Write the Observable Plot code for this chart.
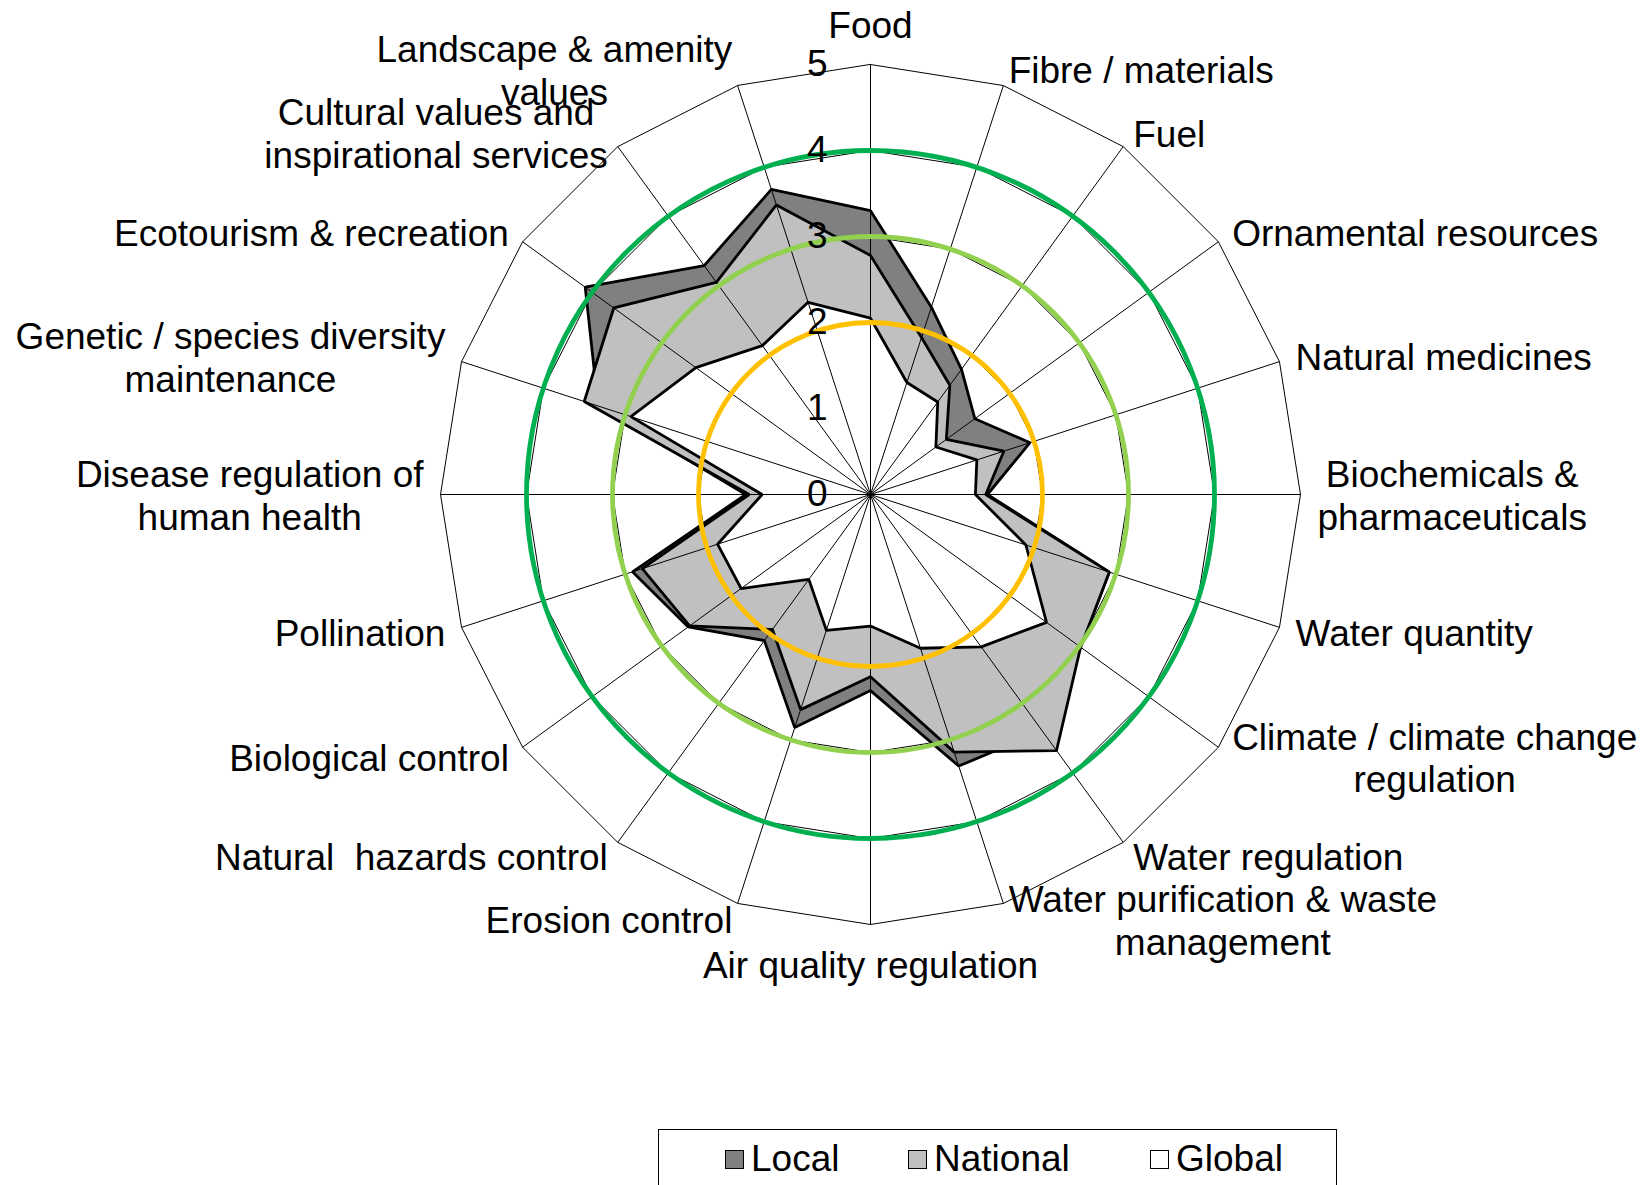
<!DOCTYPE html>
<html><head><meta charset="utf-8">
<script src="https://cdn.jsdelivr.net/npm/d3@7"></script>
<script src="https://cdn.jsdelivr.net/npm/@observablehq/plot@0.6"></script>
<style>
html,body{margin:0;padding:0;background:#fff;overflow:hidden;width:1651px;height:1185px;}
#chart{position:absolute;left:0;top:0;}
svg text{white-space:pre;}
#legend{position:absolute;left:658px;top:1129px;width:679px;height:90px;border:1px solid #000;box-sizing:border-box;font-family:"Liberation Sans",Arial,sans-serif;font-size:37px;color:#000;}
.item{position:absolute;top:0;height:58px;display:flex;align-items:center;}
.sw{width:17px;height:17px;border:1.6px solid #000;margin-right:7px;}
</style></head><body>
<div id="chart"></div>
<div id="legend"></div>
<script>
const categories = [
  "Food", "Fibre / materials", "Fuel", "Ornamental resources", "Natural medicines",
  "Biochemicals &\npharmaceuticals", "Water quantity", "Climate / climate change\nregulation",
  "Water regulation", "Water purification & waste\nmanagement", "Air quality regulation",
  "Erosion control", "Natural  hazards control", "Biological control", "Pollination",
  "Disease regulation of\nhuman health", "Genetic / species diversity\nmaintenance",
  "Ecotourism & recreation", "Cultural values and\ninspirational services",
  "Landscape & amenity\nvalues"
];
const local    = [3.30, 2.29, 1.80, 1.50, 1.95, 1.36, 2.92, 3.02, 3.40, 3.32, 2.28, 2.85, 2.10, 2.62, 2.91, 1.45, 3.33, 4.10, 3.29, 3.73];
const national = [2.78, 1.92, 1.57, 1.09, 1.63, 1.34, 2.92, 3.02, 3.68, 3.15, 2.12, 2.63, 1.94, 2.60, 2.79, 1.41, 3.50, 3.69, 3.05, 3.54];
const global   = [2.05, 1.37, 1.33, 0.94, 1.30, 1.22, 1.90, 2.53, 2.19, 1.88, 1.53, 1.66, 1.22, 1.86, 1.87, 1.26, 2.93, 2.51, 2.14, 2.35];
const seriesNames = ["Local", "National", "Global"];
const seriesFills = ["#808080", "#C0C0C0", "#FFFFFF"];
const ticks = [0, 1, 2, 3, 4, 5];
const thresholds = [2, 3, 4];
const thresholdColors = ["#FFC000", "#92D050", "#00B050"];

const seriesValues = [local, national, global];
const N = categories.length;
const MAX = 5;
const CX = 870, CY = 494, R = 430;
const PXU = R / MAX;
const FONT = '"Liberation Sans", Arial, sans-serif';
const FS = 37;
const ang = i => i * 2 * Math.PI / N;
const px = (v, i) => v * Math.sin(ang(i));
const py = (v, i) => v * Math.cos(ang(i));

const ringRows = ticks.filter(t => t > 0).flatMap(t => categories.map((c, i) => ({t, i})));
const idx = categories.map((c, i) => i);

// measure label widths for block placement
const ctx = document.createElement("canvas").getContext("2d");
ctx.font = `${FS}px "Liberation Sans"`;
const labelRows = categories.map((c, i) => {
  const w = d3.max(c.split("\n"), s => ctx.measureText(s).width);
  const s = Math.sin(ang(i)), co = Math.cos(ang(i));
  const side = Math.abs(s) < 0.01 ? 0 : Math.sign(s);
  const pad = side === 0 ? 40 : 17;
  const rr = MAX + pad / PXU;
  return {text: c, x: rr * s + side * (w / 2) / PXU, y: rr * co};
});

const marks = [
  Plot.line(ringRows, {x: d => px(d.t, d.i), y: d => py(d.t, d.i), z: "t", curve: "linear-closed", stroke: "#000", strokeWidth: 1})
];
seriesValues.forEach((vals, k) => {
  marks.push(Plot.line(vals.map((v, i) => ({v, i})), {
    x: d => px(d.v, d.i), y: d => py(d.v, d.i), curve: "linear-closed",
    fill: seriesFills[k], stroke: "#000", strokeWidth: 2.8, strokeLinejoin: "miter"
  }));
});
marks.push(Plot.link(idx, {x1: () => 0, y1: () => 0, x2: i => px(MAX, i), y2: i => py(MAX, i), stroke: "#000", strokeWidth: 1}));
thresholds.forEach((t, j) => {
  marks.push(Plot.dot([t], {x: () => 0, y: () => 0, r: d => d, stroke: thresholdColors[j], strokeWidth: 4.8, fill: "none"}));
});
marks.push(Plot.text(ticks, {x: () => 0, y: d => d, text: d => String(d), textAnchor: "end", dx: -43, lineAnchor: "middle", fontSize: FS, fill: "#000"}));
marks.push(Plot.text(labelRows, {x: "x", y: "y", text: "text", textAnchor: "middle", lineAnchor: "middle", lineHeight: 1.16, fontSize: FS, fill: "#000"}));

const chart = Plot.plot({
  width: 1651, height: 1128,
  marginTop: 0, marginRight: 0, marginBottom: 0, marginLeft: 0,
  x: {type: "linear", domain: [-MAX, MAX], range: [CX - R, CX + R], axis: null},
  y: {type: "linear", domain: [-MAX, MAX], range: [CY + R, CY - R], axis: null},
  r: {type: "linear", domain: [0, MAX], range: [0, R]},
  style: {fontFamily: FONT, background: "transparent", overflow: "visible"},
  marks
});
document.getElementById("chart").appendChild(chart);

const legendLeft = [66, 249, 491];
const legend = document.getElementById("legend");
seriesNames.forEach((n, k) => {
  const it = document.createElement("div");
  it.className = "item";
  it.style.left = legendLeft[k] + "px";
  const sw = document.createElement("div");
  sw.className = "sw";
  sw.style.background = seriesFills[k];
  const tx = document.createElement("span");
  tx.textContent = n;
  it.appendChild(sw); it.appendChild(tx);
  legend.appendChild(it);
});
</script>
</body></html>
